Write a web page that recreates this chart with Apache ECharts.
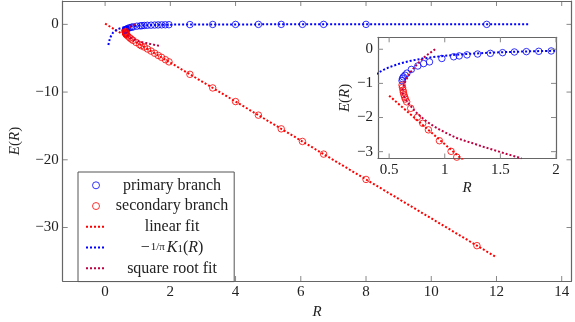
<!DOCTYPE html>
<html><head><meta charset="utf-8">
<script src="https://cdn.jsdelivr.net/npm/echarts@6/dist/echarts.min.js"></script>
<style>html,body{margin:0;padding:0;background:#fff}#c{width:575px;height:322px}</style>
</head><body><div id="c"></div>
<script>
// ---------------- data ----------------
const primaryR = [0.616,0.62,0.628,0.643,0.66,0.70,0.758,0.81,0.863,0.974,1.08,1.13,1.20,1.295,1.41,1.52,1.626,1.734,1.845,1.957,2.6,3.3,4.0,4.7,5.4,6.05,6.7,8.0,11.7];
const primaryE = [-0.92,-0.86,-0.81,-0.76,-0.70,-0.59,-0.49,-0.42,-0.37,-0.27,-0.22,-0.195,-0.165,-0.14,-0.12,-0.10,-0.08,-0.07,-0.06,-0.05,-0.03,-0.015,-0.008,-0.004,-0.002,-0.001,-0.0005,-0.0001,0];
const secondaryR = [0.616,0.62,0.625,0.628,0.633,0.64,0.646,0.658,0.694,0.754,0.802,0.853,0.952,1.057,1.108,1.2,1.3,1.41,1.52,1.63,1.73,1.85,1.96,2.6,3.3,4.0,4.7,5.4,6.05,6.7,8.0,11.4];
const secondaryE = [-1.05,-1.12,-1.2,-1.26,-1.33,-1.40,-1.46,-1.54,-1.73,-1.99,-2.17,-2.36,-2.68,-2.99,-3.16,-3.35,-3.64,-3.95,-4.27,-4.59,-4.87,-5.22,-5.54,-7.38,-9.39,-11.4,-13.41,-15.43,-17.29,-19.16,-22.9,-32.68];
const linearR = [0, 12];
const linearE = [0.1, -34.4];
const linearInsetR = [0.5, 1.2];
const linearInsetE = [-1.36, -3.35];
const besselR = [0.1,0.12,0.15,0.2,0.25,0.3,0.35,0.4,0.45,0.5,0.6,0.7,0.8,0.9,1.0,1.1,1.2,1.35,1.5,1.65,1.8,2.0,2.3,2.6,3.0,3.5,4,5,6,8,10,13];
const besselE = [-3.05,-2.60,-2.06,-1.52,-1.19,-0.973,-0.815,-0.695,-0.602,-0.527,-0.415,-0.334,-0.274,-0.228,-0.192,-0.162,-0.138,-0.110,-0.088,-0.0715,-0.058,-0.0445,-0.030,-0.021,-0.0128,-0.0071,-0.004,-0.0013,-0.0004,-0.0001,0,0];
const sqrtR = [0.914,0.875,0.838,0.80,0.763,0.73,0.70,0.675,0.655,0.638,0.625,0.62,0.625,0.64,0.66,0.69,0.736,0.79,0.838,0.90,0.958,1.03,1.108,1.18,1.258,1.33,1.409,1.48,1.558,1.664,1.69];
const sqrtE = [0.0,-0.09,-0.175,-0.28,-0.40,-0.52,-0.64,-0.76,-0.88,-1.0,-1.12,-1.22,-1.32,-1.42,-1.53,-1.65,-1.83,-1.99,-2.12,-2.25,-2.36,-2.48,-2.6,-2.68,-2.76,-2.84,-2.92,-2.99,-3.07,-3.17,-3.2];
const mainXTicks = [0,2,4,6,8,10,12,14];
const mainYTicks = [-30,-20,-10,0];
const insetXTicks = [0.5,1,1.5,2];
const insetYTicks = [-3,-2,-1,0];
const seriesNames = ['primary branch','secondary branch','linear fit','\u2212(1/\u03c0)K\u2081(R)','square root fit'];
const mainXRange = [-1.3, 14.3], mainYRange = [-37.9, 3.45];
const insetXRange = [0.4, 2], insetYRange = [-3.2, 0.35];

// ---------------- helpers ----------------
const FONT = '"Liberation Serif","Times New Roman",serif';
const zip = (a,b) => a.map((v,i)=>[v,b[i]]);
const fmt = v => String(v).replace('-', '\u2212');
const BLUE = '#0000ff', RED = '#ff0000', PURPLE = '#bf0040';
const FRAME = '#666', TICK = '#888';

function ax(grid, range, ticks, pos, showLab, margin) {
  return {
    type:'value', gridIndex:grid, min:range[0], max:range[1], position:pos,
    splitLine:{show:false},
    axisLine:{show:true, onZero:false, lineStyle:{color:FRAME, width:1.2}},
    axisTick:{show:false},
    axisLabel:{show:showLab, customValues:ticks, formatter:fmt, margin:margin,
      fontFamily:FONT, fontSize:15, color:'#222'}
  };
}
const canvas = document.createElement('canvas');
const ctx = canvas.getContext('2d');
function tw(txt, size, style){ ctx.font = (style||'') + ' ' + size + 'px ' + FONT; return ctx.measureText(txt).width; }

// legend label layout (centered text, like pgfplots)
const LW = 122;
const LF = 16;
const legendParts = [
  [['t','primary branch']],
  [['t','secondary branch']],
  [['t','linear fit']],
  [['t','\u2212'],['fr','1/\u03c0'],['it','K'],['sb','1'],['t','('],['it','R'],['t',')']],
  [['t','square root fit']]
];
const partFont = {t:[LF,''], it:[LF,'italic'], fr:[11,''], sb:[11,'']};
const rich = {
  t:{fontFamily:FONT,fontSize:LF,color:'#222',lineHeight:14},
  it:{fontFamily:FONT,fontSize:LF,fontStyle:'italic',color:'#222',lineHeight:14},
  fr:{fontFamily:FONT,fontSize:11,color:'#222',lineHeight:14,padding:[0,2,0,1]},
  sb:{fontFamily:FONT,fontSize:11,color:'#222',lineHeight:14,verticalAlign:'bottom',padding:[4,0,0,0]}
};
const legendFmt = {};
legendParts.forEach((parts,i)=>{
  let w = 0;
  parts.forEach(p=>{ const f = partFont[p[0]]; w += tw(p[1], f[0], f[1]); });
  if (i===3) w += 3;
  rich['s'+i] = {width:Math.max(0,(LW-w)/2), lineHeight:14};
  legendFmt[seriesNames[i]] = '{s'+i+'|}' + parts.map(p=>'{'+p[0]+'|'+p[1]+'}').join('');
});

const nameRich = {
  r:{fontFamily:FONT,fontSize:15,color:'#222'},
  i:{fontFamily:FONT,fontSize:15,fontStyle:'italic',color:'#222'}
};

const chart = echarts.init(document.getElementById('c'), null, {renderer:'canvas'});
const dotted = (c) => ({color:c, width:2, type:[2,2]});
const hideSym = {opacity:0, color:'transparent', borderWidth:0};
const ring = (c) => ({color:'transparent', borderColor:c, borderWidth:1});

chart.setOption({
  animation:false,
  backgroundColor:'#fff',
  grid:[
    {left:62.7, top:1, right:3.5, bottom:41, show:false, outerBoundsMode:'none', containLabel:false},
    {left:378, top:37.3, right:19, bottom:163.5, show:true, borderWidth:0, borderColor:'transparent', backgroundColor:'#fff', outerBoundsMode:'none', containLabel:false, z:3}
  ],
  xAxis:[
    Object.assign(ax(0,mainXRange,mainXTicks,'bottom',true,4), {name:'{i|R}', nameLocation:'middle', nameGap:22, nameTextStyle:{rich:nameRich}, z:1}),
    Object.assign(ax(0,mainXRange,mainXTicks,'top',false,4), {z:1}),
    Object.assign(ax(1,insetXRange,insetXTicks,'bottom',true,4), {name:'{i|R}', nameLocation:'middle', nameGap:22, nameTextStyle:{rich:nameRich}, z:4}),
    Object.assign(ax(1,insetXRange,insetXTicks,'top',false,4), {z:4})
  ],
  yAxis:[
    Object.assign(ax(0,mainYRange,mainYTicks,'left',true,4), {name:'{i|E}{r|(}{i|R}{r|)}', nameLocation:'middle', nameGap:40, nameTextStyle:{rich:nameRich}, z:1}),
    Object.assign(ax(0,mainYRange,mainYTicks,'right',false,4), {z:1}),
    Object.assign(ax(1,insetYRange,insetYTicks,'left',true,5), {name:'{i|E}{r|(}{i|R}{r|)}', nameLocation:'middle', nameGap:25, nameTextStyle:{rich:nameRich}, z:4}),
    Object.assign(ax(1,insetYRange,insetYTicks,'right',false,4), {z:4})
  ],
  legend:{
    orient:'vertical', left:78, top:172, padding:[5.3,6,5.3,7],
    backgroundColor:'#fff', borderColor:'#555', borderWidth:1, borderRadius:0,
    itemWidth:20, itemHeight:7, itemGap:4.75, align:'left',
    data:[
      {name:seriesNames[0], icon:'circle', itemStyle:ring(BLUE)},
      {name:seriesNames[1], icon:'circle', itemStyle:ring(RED)},
      {name:seriesNames[2], itemStyle:hideSym},
      {name:seriesNames[3], itemStyle:hideSym},
      {name:seriesNames[4], itemStyle:hideSym}
    ],
    selectedMode:false,
    formatter:n=>legendFmt[n],
    textStyle:{rich:rich}
  },
  series:[
    {name:seriesNames[0], type:'scatter', xAxisIndex:0, yAxisIndex:0, data:zip(primaryR,primaryE), symbol:'circle', symbolSize:6.5, itemStyle:ring(BLUE), z:3},
    {name:seriesNames[1], type:'scatter', xAxisIndex:0, yAxisIndex:0, data:zip(secondaryR,secondaryE), symbol:'circle', symbolSize:6.5, itemStyle:ring(RED), z:3},
    {name:seriesNames[2], type:'line', xAxisIndex:0, yAxisIndex:0, data:zip(linearR,linearE), showSymbol:false, symbol:'none', lineStyle:dotted(RED), itemStyle:{color:RED}, z:4},
    {name:seriesNames[3], type:'line', xAxisIndex:0, yAxisIndex:0, data:zip(besselR,besselE), showSymbol:false, symbol:'none', lineStyle:dotted(BLUE), itemStyle:{color:BLUE}, z:4},
    {name:seriesNames[4], type:'line', xAxisIndex:0, yAxisIndex:0, data:zip(sqrtR,sqrtE), showSymbol:false, symbol:'none', lineStyle:dotted(PURPLE), itemStyle:{color:PURPLE}, z:4},
    {name:seriesNames[0], type:'scatter', xAxisIndex:2, yAxisIndex:2, data:zip(primaryR,primaryE), symbol:'circle', symbolSize:6.5, itemStyle:ring(BLUE), z:5},
    {name:seriesNames[1], type:'scatter', xAxisIndex:2, yAxisIndex:2, data:zip(secondaryR,secondaryE), symbol:'circle', symbolSize:6.5, itemStyle:ring(RED), z:5},
    {name:seriesNames[2], type:'line', xAxisIndex:2, yAxisIndex:2, data:zip(linearInsetR,linearInsetE), showSymbol:false, symbol:'none', lineStyle:dotted(RED), itemStyle:{color:RED}, z:6},
    {name:seriesNames[3], type:'line', xAxisIndex:2, yAxisIndex:2, data:zip(besselR,besselE), showSymbol:false, symbol:'none', lineStyle:dotted(BLUE), itemStyle:{color:BLUE}, z:6},
    {name:seriesNames[4], type:'line', xAxisIndex:2, yAxisIndex:2, data:zip(sqrtR,sqrtE), showSymbol:false, symbol:'none', lineStyle:dotted(PURPLE), itemStyle:{color:PURPLE}, z:6}
  ]
});

// inward tick marks on all four sides, placed through the chart's own scales
try {
  const L = 5, els = [];
  const seg = (x1,y1,x2,y2,z) => els.push({type:'line', silent:true, z:z,
    shape:{x1:x1,y1:y1,x2:x2,y2:y2}, style:{stroke:TICK, lineWidth:1}});
  function ticksFor(seriesIndex, xv, yv, xr, yr, z) {
    const f = {seriesIndex:seriesIndex};
    xv.forEach(v => {
      const b = chart.convertToPixel(f, [v, yr[0]]);
      const t = chart.convertToPixel(f, [v, yr[1]]);
      seg(b[0], b[1], b[0], b[1]-L, z); seg(t[0], t[1], t[0], t[1]+L, z);
    });
    yv.forEach(v => {
      const l = chart.convertToPixel(f, [xr[0], v]);
      const r = chart.convertToPixel(f, [xr[1], v]);
      seg(l[0], l[1], l[0]+L, l[1], z); seg(r[0], r[1], r[0]-L, r[1], z);
    });
  }
  ticksFor(0, mainXTicks, mainYTicks, mainXRange, mainYRange, 1);
  ticksFor(5, insetXTicks, insetYTicks, insetXRange, insetYRange, 10);
  chart.setOption({graphic:{elements:els}});
} catch (e) { console.error(e); }
</script>
</body></html>
